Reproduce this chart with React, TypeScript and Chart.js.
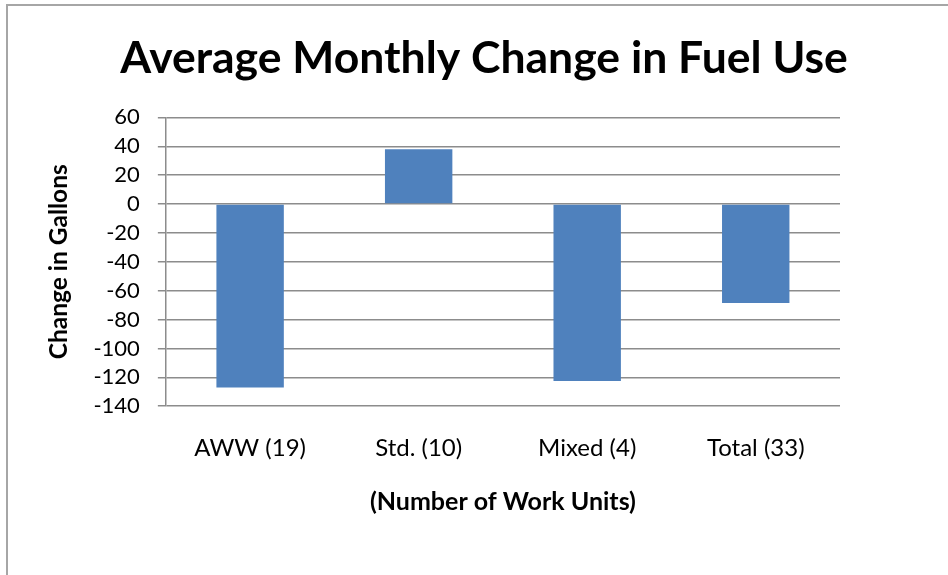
import React, { useEffect, useRef } from "react";
import { Chart, registerables } from "chart.js";

Chart.register(...registerables);

const categories = ["AWW (19)", "Std. (10)", "Mixed (4)", "Total (33)"];
const changeValues = [-127, 38, -122.5, -68.5];
const chartTitle = "Average Monthly Change in Fuel Use";
const yAxisTitle = "Change in Gallons";
const xAxisTitle = "(Number of Work Units)";

const FONT = "Lato, 'Open Sans', sans-serif";

export default function App() {
  const ref = useRef<HTMLCanvasElement | null>(null);
  useEffect(() => {
    if (!ref.current) return;
    const chart = new Chart(ref.current, {
      type: "bar",
      data: {
        labels: categories,
        datasets: [
          {
            data: changeValues,
            backgroundColor: "#4F81BD",
            borderWidth: 0,
            barPercentage: 0.4,
            categoryPercentage: 1,
          },
        ],
      },
      options: {
        animation: false,
        responsive: true,
        maintainAspectRatio: false,
        layout: { padding: { left: 44, right: 24, top: 0, bottom: 58 } },
        plugins: {
          legend: { display: false },
          tooltip: { enabled: false },
          title: {
            display: true,
            text: chartTitle,
            color: "#000",
            font: { family: FONT, size: 44.5, weight: "bold" },
            padding: { top: 32, bottom: 32 },
          },
        },
        scales: {
          x: {
            grid: { display: false, drawTicks: false },
            border: { display: false },
            ticks: {
              color: "#000",
              font: { family: FONT, size: 24 },
              padding: 28,
              maxRotation: 0,
            },
            title: {
              display: true,
              text: xAxisTitle,
              color: "#000",
              font: { family: FONT, size: 25, weight: "bold" },
              padding: { top: -4, bottom: 0 },
            },
          },
          y: {
            min: -140,
            max: 60,
            grid: {
              color: "#8c8c8c",
              lineWidth: 1.5,
              tickLength: 8,
              drawTicks: true,
            },
            border: { display: true, color: "#8c8c8c", width: 1.5 },
            ticks: {
              stepSize: 20,
              autoSkip: false,
              color: "#000",
              font: { family: FONT, size: 22 },
              padding: 18,
            },
            title: {
              display: true,
              text: yAxisTitle,
              color: "#000",
              font: { family: FONT, size: 24.5, weight: "bold" },
              padding: { top: 0, bottom: 2 },
            },
          },
          yRightSpace: {
            type: "linear",
            position: "right",
            min: 0,
            max: 1,
            grid: { display: false, drawTicks: false },
            border: { display: false },
            ticks: { display: false },
            afterFit: (axis: any) => {
              axis.width = 84;
            },
          },
        },
      } as any,
    });
    return () => chart.destroy();
  }, []);

  return (
    <div style={{ position: "fixed", left: 0, top: 0, width: 948, height: 575, background: "#fff", overflow: "hidden" }}>
      <div style={{ position: "absolute", left: 0, top: 0, width: 948, height: 575 }}>
        <canvas ref={ref} />
      </div>
      <div
        style={{
          position: "absolute",
          left: 6,
          top: 4,
          width: 1000,
          height: 700,
          border: "2px solid #a6a6a6",
          pointerEvents: "none",
        }}
      />
    </div>
  );
}
